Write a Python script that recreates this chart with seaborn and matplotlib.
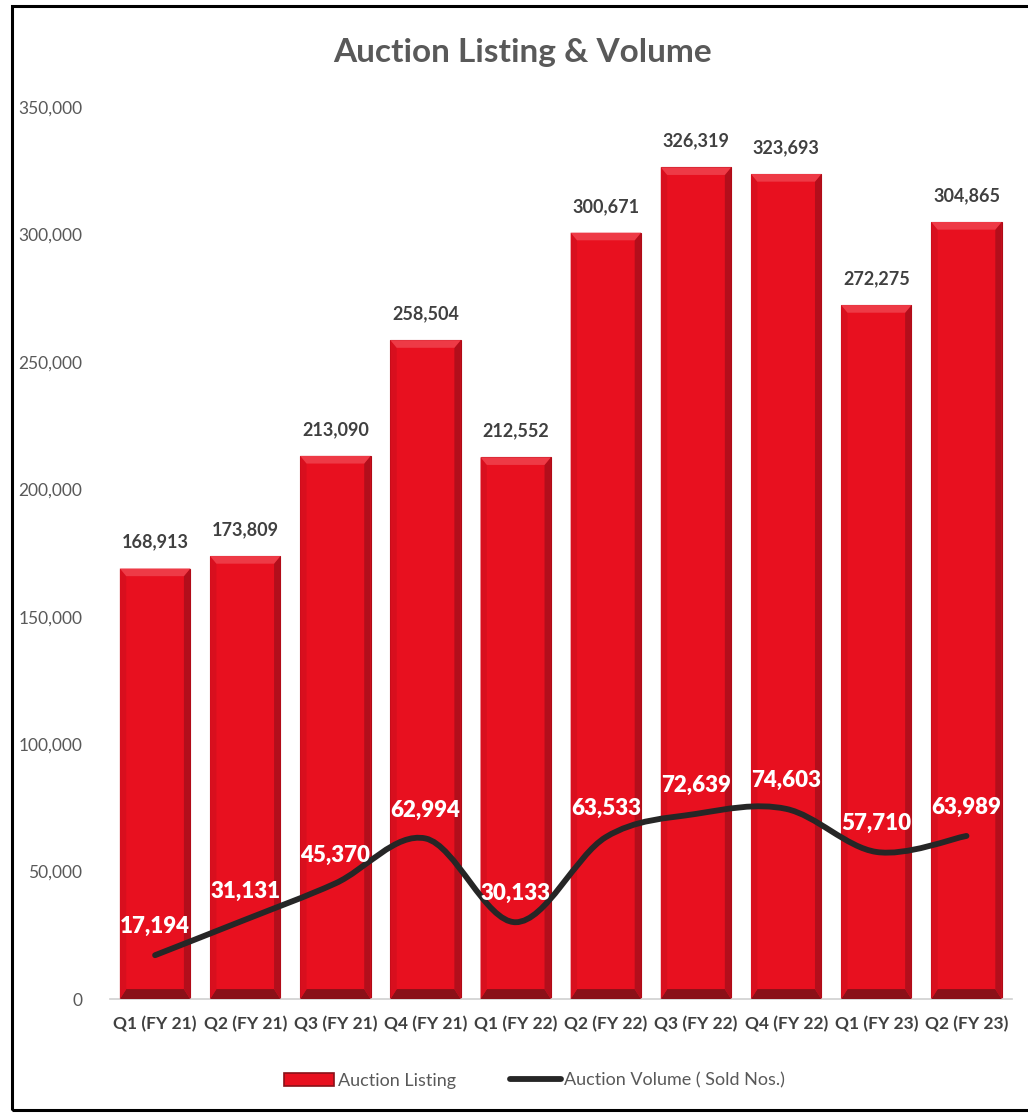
import numpy as np
import pandas as pd
import matplotlib
matplotlib.use("Agg")
import matplotlib.pyplot as plt
import seaborn as sns
from matplotlib.path import Path
from matplotlib.patches import PathPatch, Rectangle, Polygon
from matplotlib.lines import Line2D
from matplotlib.ticker import FuncFormatter

quarters = ["Q1 (FY 21)", "Q2 (FY 21)", "Q3 (FY 21)", "Q4 (FY 21)", "Q1 (FY 22)",
            "Q2 (FY 22)", "Q3 (FY 22)", "Q4 (FY 22)", "Q1 (FY 23)", "Q2 (FY 23)"]
listing = [168913, 173809, 213090, 258504, 212552, 300671, 326319, 323693, 272275, 304865]
volume = [17194, 31131, 45370, 62994, 30133, 63533, 72639, 74603, 57710, 63989]

sns.set_theme(style="white")
plt.rcParams['font.family'] = ['Lato', 'DejaVu Sans']

fig = plt.figure(figsize=(10.28, 11.13), dpi=100)
ax = fig.add_axes([0.107, 0.1024, 0.877, 0.8015])

df = pd.DataFrame({"Quarter": quarters, "Listing": listing})
sns.barplot(data=df, x="Quarter", y="Listing", color="#E8101F", saturation=1,
            width=0.78, edgecolor="#B00A16", linewidth=0.8, ax=ax, zorder=2)

# bevel effect on bars
bevel_y = 3000
for p in ax.patches:
    x0, w, h = p.get_x(), p.get_width(), p.get_height()
    bx = w * 0.09
    ax.add_patch(Polygon([[x0, 0], [x0 + w, 0], [x0 + w - bx, bevel_y * 1.3], [x0 + bx, bevel_y * 1.3]],
                         closed=True, facecolor="#8A1018", edgecolor="none", zorder=3))
    ax.add_patch(Polygon([[x0 + w, 0], [x0 + w, h], [x0 + w - bx, h - bevel_y], [x0 + w - bx, bevel_y * 1.3]],
                         closed=True, facecolor="#B30E1B", edgecolor="none", zorder=3))
    ax.add_patch(Polygon([[x0, 0], [x0, h], [x0 + bx, h - bevel_y], [x0 + bx, bevel_y * 1.3]],
                         closed=True, facecolor="#D80F1E", edgecolor="none", zorder=3))
    ax.add_patch(Polygon([[x0, h], [x0 + w, h], [x0 + w - bx, h - bevel_y], [x0 + bx, h - bevel_y]],
                         closed=True, facecolor="#EE3A46", edgecolor="none", zorder=3))

# smoothed line (bezier through the data points, like Excel's smoothed line)
xs = np.arange(len(volume), dtype=float)
ys = np.array(volume, dtype=float)
pts = np.column_stack([xs, ys])
verts = [tuple(pts[0])]
codes = [Path.MOVETO]
n = len(pts)
for i in range(n - 1):
    p0 = pts[i - 1] if i > 0 else pts[i]
    p1 = pts[i]
    p2 = pts[i + 1]
    p3 = pts[i + 2] if i + 2 < n else pts[i + 1]
    c1 = p1 + (p2 - p0) / 6.0
    c2 = p2 - (p3 - p1) / 6.0
    verts += [tuple(c1), tuple(c2), tuple(p2)]
    codes += [Path.CURVE4] * 3
ax.add_patch(PathPatch(Path(verts, codes), facecolor="none", edgecolor="#262626",
                       linewidth=4.2, capstyle="round", joinstyle="round", zorder=4))

# labels
for i, v in enumerate(listing):
    ax.text(i, v + 7000, f"{v:,}", ha="center", va="bottom", fontsize=13,
            fontweight="bold", color="#404040", zorder=5)
for i, v in enumerate(volume):
    ax.text(i, v + 7000, f"{v:,}", ha="center", va="bottom", fontsize=16,
            fontweight="heavy", color="white", zorder=5)

ax.set_ylim(0, 350000)
ax.set_xlim(-0.5, len(quarters) - 0.5)
ax.set_yticks(np.arange(0, 350001, 50000))
ax.yaxis.set_major_formatter(FuncFormatter(lambda v, _: f"{int(v):,}"))
ax.tick_params(axis="y", labelsize=12.5, labelcolor="#595959", length=0, pad=20)
ax.tick_params(axis="x", labelsize=12.5, labelcolor="#404040", length=0, pad=12)
for lab in ax.get_xticklabels():
    lab.set_fontweight("bold")
ax.set_xlabel("")
ax.set_ylabel("")
for s in ["top", "right", "left"]:
    ax.spines[s].set_visible(False)
ax.spines["bottom"].set_color("#D0D0D0")
ax.spines["bottom"].set_linewidth(1.2)
ax.grid(False)

fig.text(0.508, 0.953, "Auction Listing & Volume", ha="center", va="center",
         fontsize=24, fontweight="bold", color="#595959")

handles = [Rectangle((0, 0), 1, 1, facecolor="#E8101F", edgecolor="#8A1018", linewidth=1.2),
           Line2D([0], [0], color="#262626", linewidth=4.2, solid_capstyle="round")]
fig.legend(handles, ["Auction Listing", "Auction Volume ( Sold Nos.)"],
           loc="center", bbox_to_anchor=(0.52, 0.029), ncol=2, frameon=False,
           fontsize=13, labelcolor="#595959", handlelength=2.8, handletextpad=0.2,
           columnspacing=3.0)

fig.patches.append(Rectangle((0.012, 0.003), 1.2, 0.992, transform=fig.transFigure,
                             fill=False, edgecolor="black", linewidth=2.2, zorder=10))

fig.savefig("out.png", dpi=100, facecolor="white")
